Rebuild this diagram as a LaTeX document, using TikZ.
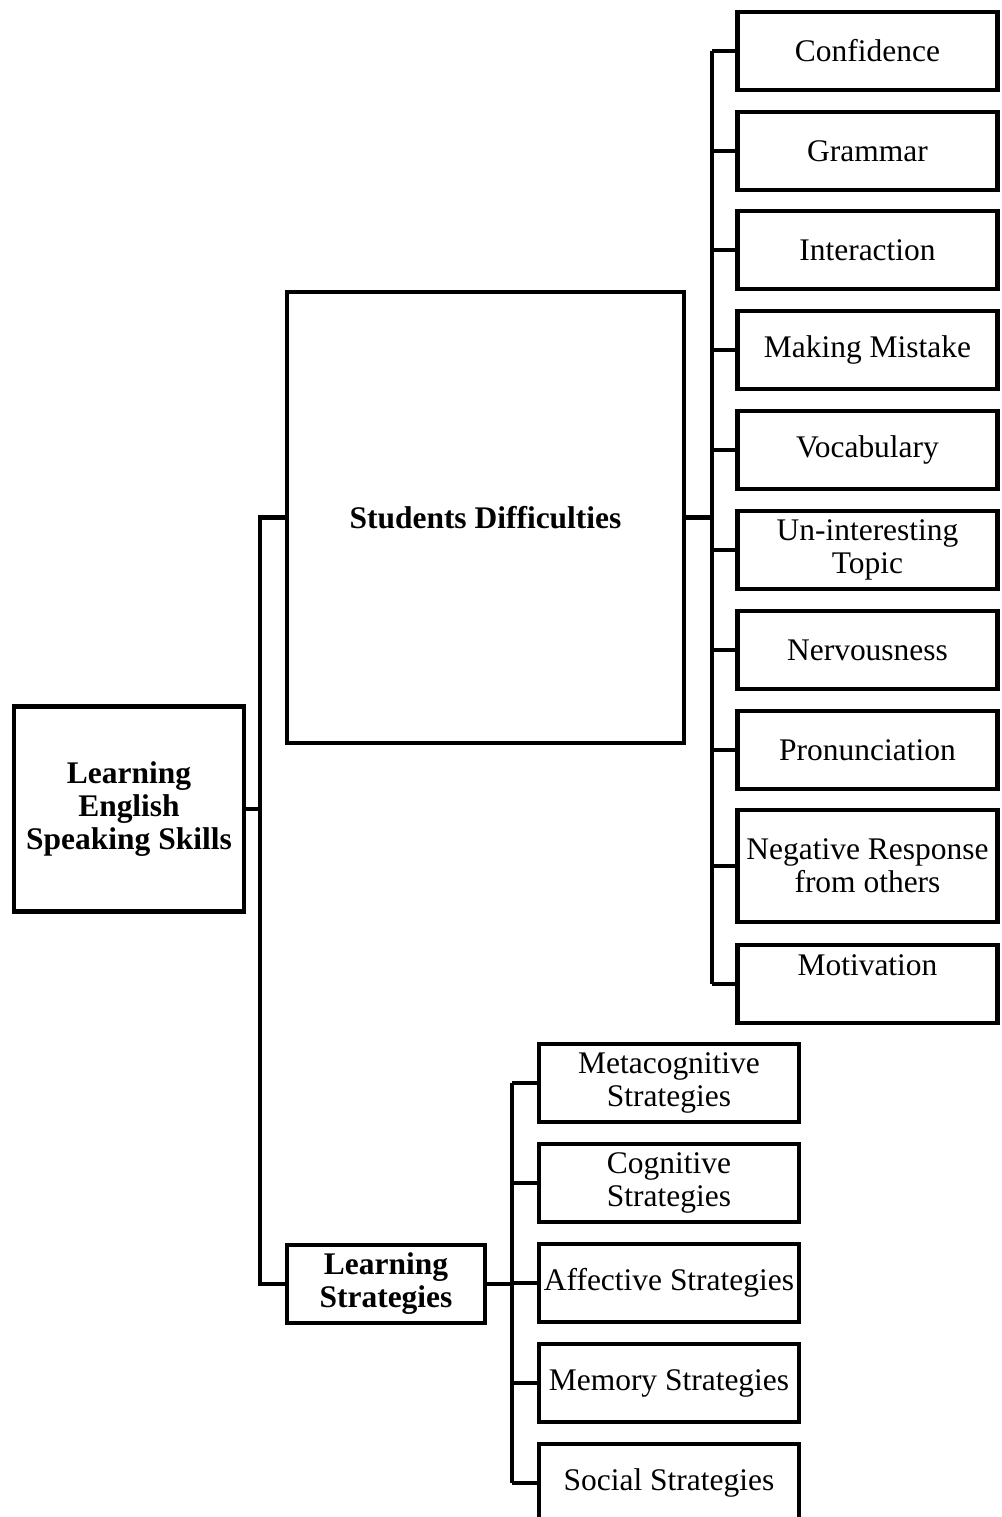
\documentclass[tikz,border=0pt]{standalone}
\usepackage{fontspec}
\setmainfont{Liberation Serif}

\tikzset{every picture/.style={line width=3.5pt}}
\tikzset{
  box/.style={draw, rectangle, align=center, inner sep=1pt,
    font=\fontsize{23.6}{24.8}\selectfont},
  leaf/.style={box, minimum width=195pt, minimum height=58.5pt},
  headbox/.style={box, font=\fontsize{23.6}{24.8}\selectfont\bfseries}
}

\begin{document}
\begin{tikzpicture}[x=0.75pt,y=0.75pt,yscale=-1,xscale=1]
\useasboundingbox (0,0) rectangle (1001,1517);
\clip (0,0) rectangle (1001,1517);

%Main boxes
\node [headbox, minimum width=172.5pt, minimum height=153.75pt] (root) at (129,809) {Learning\\English\\Speaking Skills};
\node [headbox, minimum width=297.75pt, minimum height=338.25pt] (sd) at (485.5,517.5) {Students Difficulties};
\node [headbox, minimum width=148.5pt, minimum height=58.5pt] (ls) at (386,1284) {Learning\\Strategies};

%Difficulties
\node [leaf] (d1) at (867.5,51) {Confidence};
\node [leaf] (d2) at (867.5,151) {Grammar};
\node [leaf] (d3) at (867.5,250) {Interaction};
\node [leaf] (d4) at (867.5,350) {Making Mistake};
\node [leaf] (d5) at (867.5,450) {Vocabulary};
\node [leaf] (d6) at (867.5,550) {Un-interesting\\Topic};
\node [leaf] (d7) at (867.5,650) {Nervousness};
\node [leaf] (d8) at (867.5,750) {Pronunciation};
\node [leaf, minimum height=84pt] (d9) at (867.5,866) {Negative Response\\from others};
\node [leaf] (d10) at (867.5,984) {Motivation\\[-4pt]\strut};

%Strategies
\node [leaf] (s1) at (669,1083) {Metacognitive\\Strategies};
\node [leaf] (s2) at (669,1183) {Cognitive\\Strategies};
\node [leaf] (s3) at (669,1283) {Affective Strategies};
\node [leaf] (s4) at (669,1383) {Memory Strategies};
\node [leaf] (s5) at (669,1483) {Social Strategies};

%Bus lines
\coordinate (tr) at (260,0);
\coordinate (br) at (712,0);
\coordinate (sr) at (512,0);

\draw (root.east) -- (root.east -| tr);
\draw (sd.west) -- (sd.west -| tr) -- (ls.west -| tr) -- (ls.west);
\draw (sd.east) -- (sd.east -| br);
\draw (d1.west -| br) -- (d10.west -| br);
\foreach \i in {1,...,10}
  \draw (d\i.west) -- (d\i.west -| br);
\draw (ls.east) -- (ls.east -| sr);
\draw (s1.west -| sr) -- (s5.west -| sr);
\foreach \i in {1,...,5}
  \draw (s\i.west) -- (s\i.west -| sr);

\end{tikzpicture}
\end{document}
